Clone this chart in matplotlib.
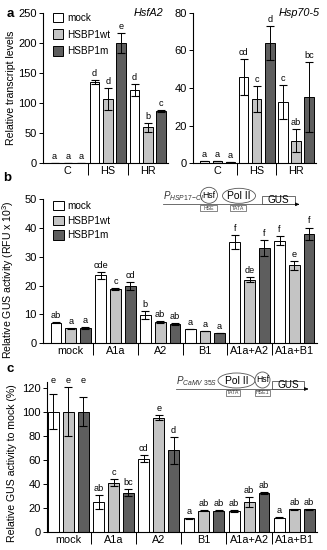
import numpy as np
import matplotlib
matplotlib.use("Agg")
import matplotlib.pyplot as plt
from matplotlib.patches import Patch, Ellipse, Rectangle

plt.rcParams['font.family'] = ['Liberation Sans', 'DejaVu Sans']
plt.rcParams['mathtext.fontset'] = 'custom'
plt.rcParams['mathtext.it'] = 'Liberation Sans:italic'
plt.rcParams['mathtext.rm'] = 'Liberation Sans'

SERIES = ["mock", "HSBP1wt", "HSBP1m"]
COLORS = ["white", "#c4c4c4", "#5e5e5e"]

# ---- panel a: HsfA2 ----
a_groups = ["C", "HS", "HR"]
hsfa2_mean = [[1, 135, 121], [1, 106.5, 59.5], [0.6, 199, 87]]
hsfa2_err = [[0, 3.5, 10], [0, 18, 8], [0, 16.5, 1.5]]
hsfa2_letters = [["a", "d", "d"], ["a", "d", "b"], ["a", "e", "c"]]

# ---- panel a: Hsp70-5 ----
hsp70_mean = [[1, 46, 32.5], [1, 34, 12], [0.5, 64, 35.3]]
hsp70_err = [[0, 9.5, 9], [0, 7, 6], [0, 9, 18.4]]
hsp70_letters = [["a", "cd", "c"], ["a", "c", "ab"], ["a", "d", "bc"]]

# ---- panel b: GUS activity ----
bc_groups = ["mock", "A1a", "A2", "B1", "A1a+A2", "A1a+B1"]
gus_mean = [[7.2, 23.5, 9.8, 4.9, 35, 35.6],
            [5.2, 18.9, 7.5, 4.3, 22, 27],
            [5.4, 19.8, 6.6, 3.7, 33, 38]]
gus_err = [[0.3, 1.3, 1.5, 0, 2.4, 1.6],
           [0.2, 0.3, 0.3, 0, 0.9, 1.5],
           [0.3, 1.5, 0.3, 0, 2.9, 2.1]]
gus_letters = [["ab", "cde", "b", "a", "f", "f"],
               ["a", "c", "ab", "a", "de", "e"],
               ["a", "cd", "ab", "a", "f", "f"]]

# ---- panel c: GUS relative to mock ----
rel_mean = [[100, 25, 61, 11.5, 17.5, 12],
            [100, 41, 95, 18, 25, 19],
            [100, 33, 68, 18, 32.5, 19]]
rel_err = [[14.5, 6, 3, 0.3, 1, 0.3],
           [20.5, 3, 2, 0.5, 4, 0.3],
           [12, 3, 11, 0.5, 1, 0.3]]
rel_letters = [["e", "ab", "cd", "a", "ab", "a"],
               ["e", "c", "e", "ab", "ab", "ab"],
               ["e", "bc", "d", "ab", "ab", "ab"]]


def bar_panel(ax, groups, means, errs, letters, ylim, yticks, xleft,
              level_groups=()):
    x = np.arange(len(groups))
    offsets = [-0.33, 0.0, 0.33]
    means = np.asarray(means, dtype=float)
    errs = np.asarray(errs, dtype=float)
    for k in range(3):
        ax.bar(x + offsets[k], means[k], width=0.24, color=COLORS[k],
               edgecolor="black", linewidth=0.7, zorder=2, label=SERIES[k])
        ax.errorbar(x + offsets[k], means[k], yerr=errs[k], fmt="none",
                    ecolor="black", elinewidth=0.7, capsize=3,
                    capthick=0.8, zorder=3)
    top = means + errs
    for g in level_groups:
        top[:, g] = top[:, g].max()
    for k in range(3):
        for g in range(len(groups)):
            ax.annotate(letters[k][g], (x[g] + offsets[k], top[k, g]),
                        xytext=(0, 1.5), textcoords="offset points",
                        ha="center", va="bottom", fontsize=6.6)

    ax.set_xlim(xleft, len(groups) - 0.5)
    ax.set_ylim(*ylim)
    ax.set_yticks(yticks)
    ax.set_xticks(x, groups)
    ax.set_xticks(x[:-1] + 0.5, minor=True)
    ax.tick_params(axis="x", which="major", length=0, pad=2, labelsize=7.8)
    ax.tick_params(axis="x", which="minor", length=8.5, width=0.7)
    ax.tick_params(axis="y", length=3, width=0.7, pad=1.5, labelsize=8)
    for s in ["top", "right"]:
        ax.spines[s].set_visible(False)
    for s in ["left", "bottom"]:
        ax.spines[s].set_linewidth(0.8)


def add_legend(ax, anchor, spacing):
    handles = [Patch(facecolor=c, edgecolor="black", linewidth=0.7)
               for c in COLORS]
    ax.legend(handles, SERIES, loc="upper left", bbox_to_anchor=anchor,
              frameon=False, fontsize=7.2, handlelength=1.05,
              handleheight=1.05, handletextpad=0.35, labelspacing=spacing,
              borderpad=0, borderaxespad=0)


fig = plt.figure(figsize=(3.27, 5.5), dpi=100)
YLAB = 7.6

# panel a
ax_a1 = fig.add_axes([0.1315, 0.703, 0.382, 0.274])
bar_panel(ax_a1, a_groups, hsfa2_mean, hsfa2_err, hsfa2_letters,
          (0, 250), range(0, 251, 50), -0.62)
ax_a1.set_ylabel("Relative transcript levels", fontsize=YLAB)
ax_a1.yaxis.set_label_coords(-0.215, 0.5)
ax_a1.text(0.96, 1.0, "HsfA2", transform=ax_a1.transAxes, ha="right",
           va="center", fontsize=7.8, style="italic")
add_legend(ax_a1, (0.08, 1.0), 0.68)

ax_a2 = fig.add_axes([0.590, 0.703, 0.376, 0.274])
bar_panel(ax_a2, a_groups, hsp70_mean, hsp70_err, hsp70_letters,
          (0, 80), range(0, 81, 20), -0.62)
ax_a2.text(1.03, 1.0, "Hsp70-5", transform=ax_a2.transAxes, ha="right",
           va="center", fontsize=7.8, style="italic")

# panel b
ax_b = fig.add_axes([0.1315, 0.3758, 0.837, 0.2624])
bar_panel(ax_b, bc_groups, gus_mean, gus_err, gus_letters,
          (0, 50), range(0, 51, 10), -0.62)
ax_b.set_ylabel("Relative GUS activity (RFU x 10$^3$)", fontsize=YLAB)
ax_b.yaxis.set_label_coords(-0.099, 0.44)
add_legend(ax_b, (0.037, 0.985), 0.45)

# panel c
ax_c = fig.add_axes([0.144, 0.0322, 0.825, 0.274])
bar_panel(ax_c, bc_groups, rel_mean, rel_err, rel_letters,
          (0, 125), range(0, 121, 20), -0.47, level_groups=(0,))
ax_c.set_ylabel("Relative GUS activity to mock (%)", fontsize=YLAB)
ax_c.yaxis.set_label_coords(-0.111, 0.46)

# panel letters
fig.text(10 / 327, 1 - 14 / 550, "a", fontsize=9.5, fontweight="bold",
         ha="center", va="center")
fig.text(7 / 327, 1 - 178 / 550, "b", fontsize=9.5, fontweight="bold",
         ha="center", va="center")
fig.text(10 / 327, 1 - 369 / 550, "c", fontsize=9.5, fontweight="bold",
         ha="center", va="center")

# promoter schematics, drawn in pixel coordinates
ov = fig.add_axes([0, 0, 1, 1], zorder=5)
ov.set_xlim(0, 327)
ov.set_ylim(550, 0)
ov.set_axis_off()
ov.patch.set_alpha(0)


def construct(ax, x0, x1, yl, label, parts):
    lw = 0.6
    ax.plot([x0, x1], [yl, yl], color="#555555", lw=lw)
    ax.annotate("", xy=(x1 + 7, yl), xytext=(x1, yl),
                arrowprops=dict(arrowstyle="-|>", color="black", lw=0.6,
                                mutation_scale=5))
    ax.text(x0, yl - 1, label, ha="left", va="bottom", fontsize=7,
            color="#333333")
    for kind, cx, w, text in parts:
        if kind == "hsf":
            ax.add_patch(Ellipse((cx, yl - 9), w, 16, facecolor="white",
                                 edgecolor="#555555", lw=lw))
            ax.text(cx, yl - 9, text, ha="center", va="center", fontsize=6.2)
        elif kind == "pol":
            ax.add_patch(Ellipse((cx, yl - 8.5), w, 15, facecolor="white",
                                 edgecolor="#555555", lw=lw))
            ax.text(cx, yl - 8.5, text, ha="center", va="center",
                    fontsize=7.5)
        elif kind == "gus":
            ax.add_patch(Rectangle((cx - w / 2, yl - 8.5), w, 8.5,
                                   facecolor="white", edgecolor="#555555",
                                   lw=lw))
            ax.text(cx, yl - 4.2, text, ha="center", va="center",
                    fontsize=7.2)
        elif kind == "box":
            ax.add_patch(Rectangle((cx - w / 2, yl + 1), w, 5.5,
                                   facecolor="white", edgecolor="#555555",
                                   lw=0.5))
            ax.text(cx, yl + 3.8, text, ha="center", va="center",
                    fontsize=3.8, color="#444444")


construct(ov, 163, 295, 204.3, r"$P_{HSP17\mathrm{-}CI}$",
          [("hsf", 209, 17, "Hsf"), ("pol", 239, 33, "Pol II"),
           ("gus", 278.5, 33, "GUS"), ("box", 208.5, 17, "HSE"),
           ("box", 238, 16, "TATA")])
construct(ov, 176, 304, 389, r"$P_{CaMV\ 35S}$",
          [("pol", 236.5, 37, "Pol II"), ("hsf", 262.5, 15, "Hsf"),
           ("gus", 288, 32, "GUS"), ("box", 233, 14, "TATA"),
           ("box", 262, 15, "HSE1")])

fig.savefig("out.png", dpi=100)
